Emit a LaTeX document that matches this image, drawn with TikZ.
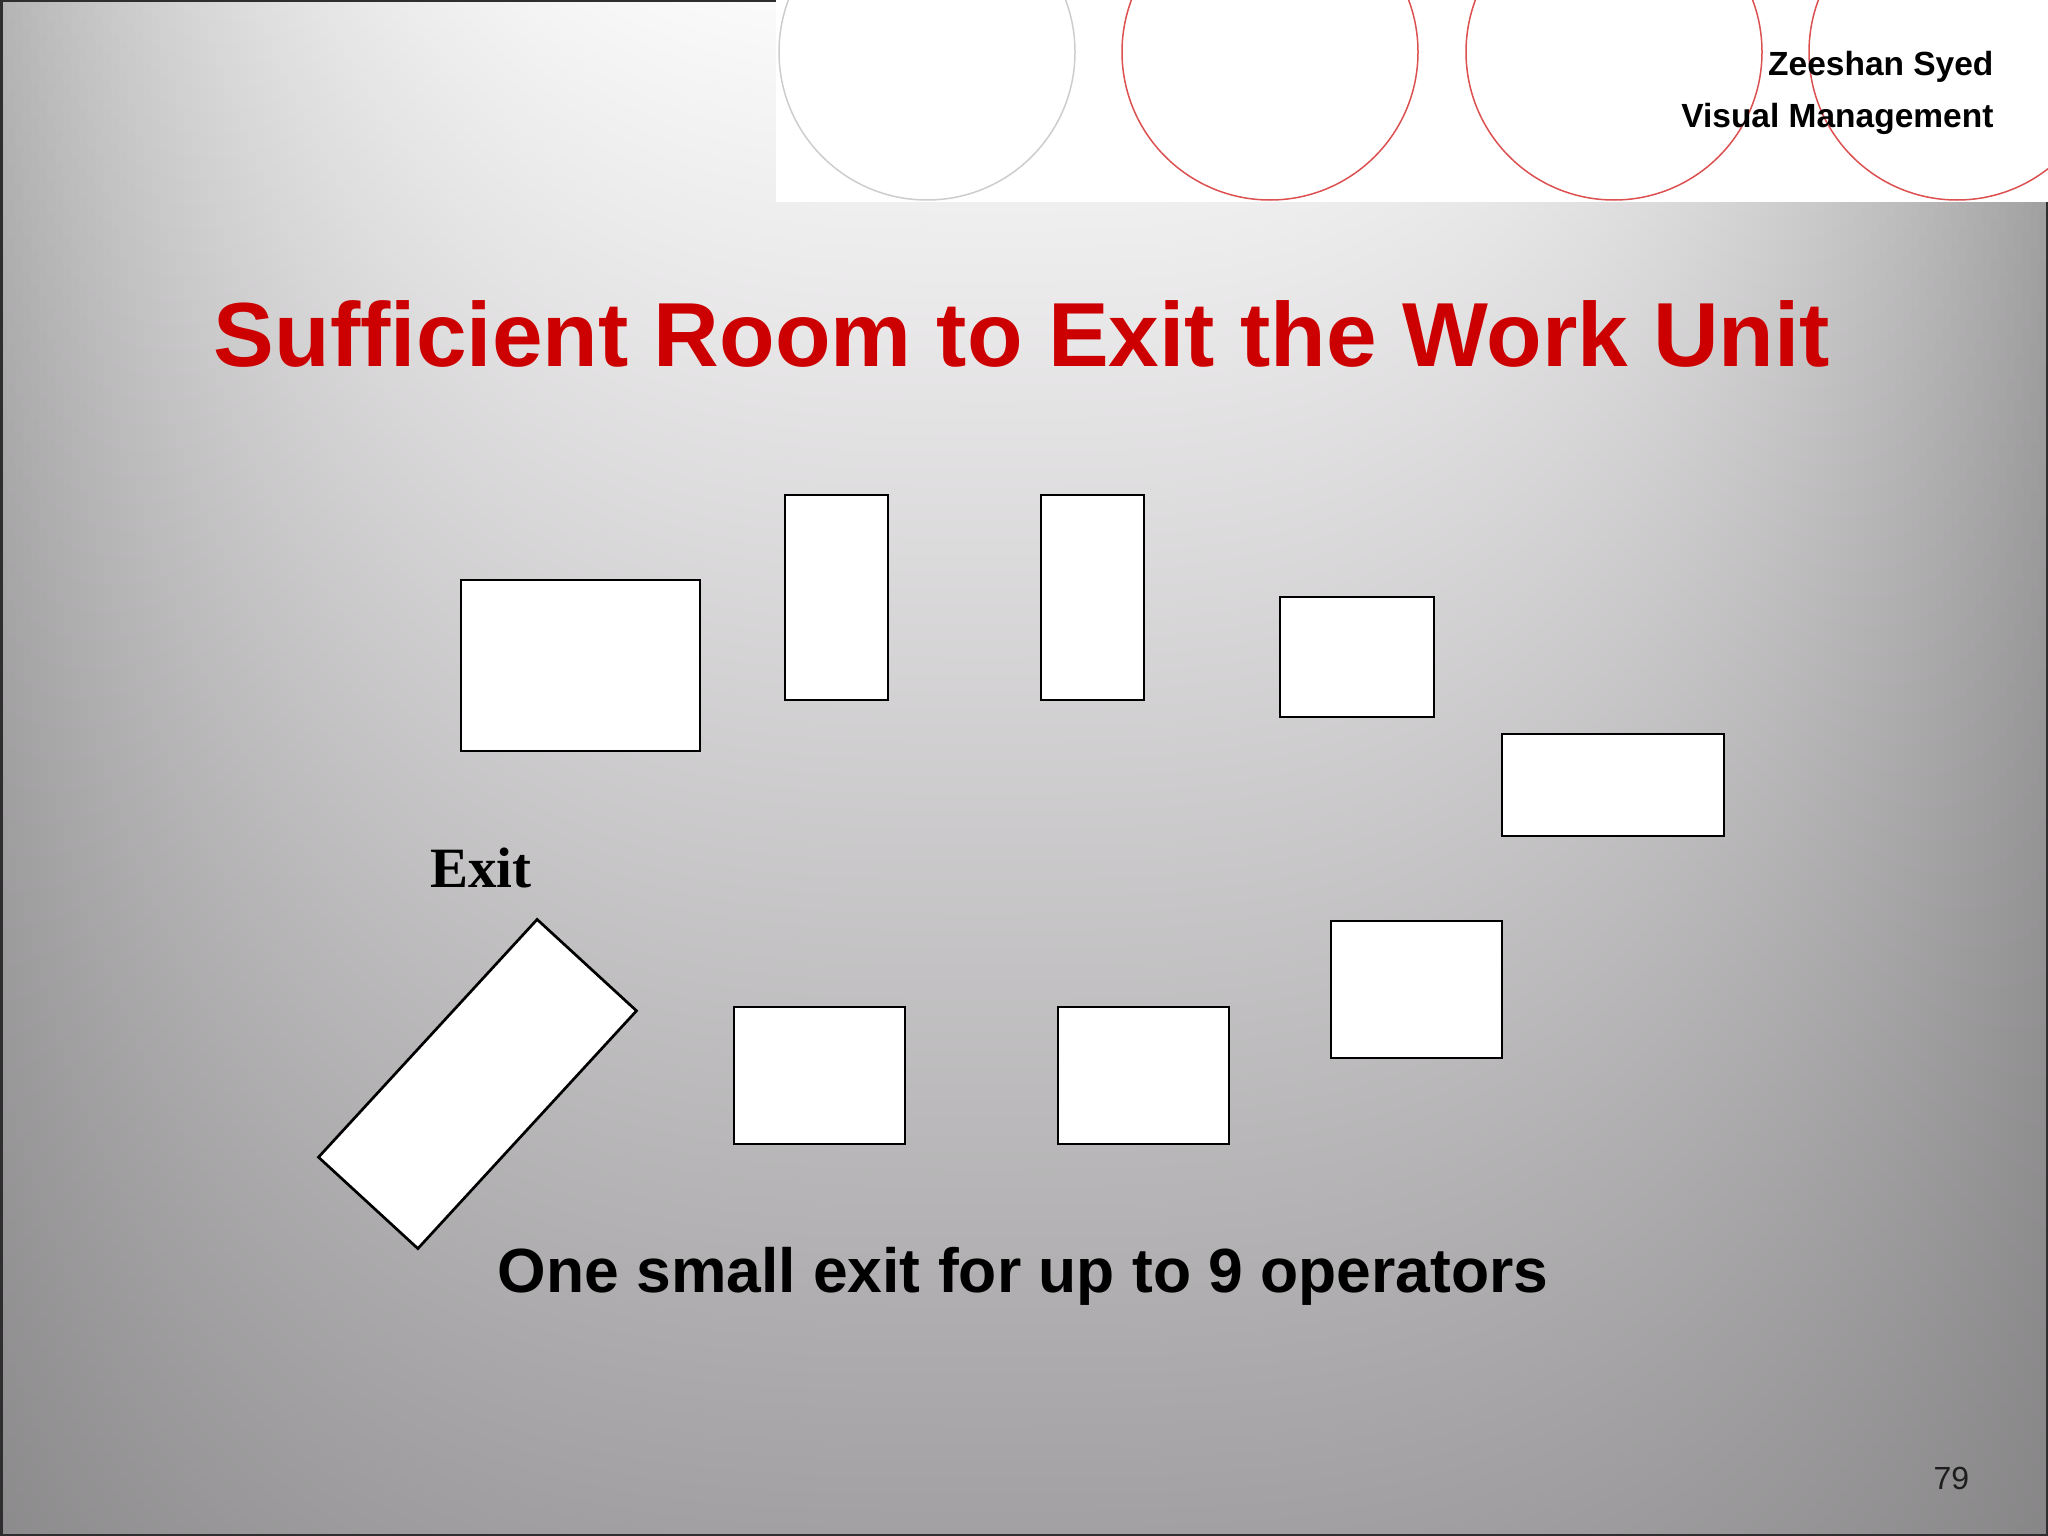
\documentclass[tikz,border=0pt]{standalone}
\usepackage{fontspec}
\setmainfont{Liberation Sans}
\newfontfamily\exitfont{Liberation Serif}
\usetikzlibrary{positioning}

\definecolor{titlered}{HTML}{CC0000}
\definecolor{ringred}{HTML}{DC5050}
\definecolor{ringgray}{HTML}{CDCDCD}
\definecolor{framegray}{HTML}{2E2E2E}
\definecolor{pagenum}{HTML}{1E1E1E}
\definecolor{bgtop}{HTML}{FCFBFC}
\definecolor{bgbottom}{HTML}{A2A0A2}
\definecolor{sidegray}{HTML}{7A797A}

\begin{document}
\begin{tikzpicture}[x = 1pt, y = -1pt,
  station/.style = {draw = black, fill = white, line width = 2.7pt, inner sep = 0pt}]
\useasboundingbox (0,0) rectangle (2048,1536);
\foreach \i in {0,...,255} {
  \pgfmathsetmacro{\xl}{\i*8}
  \pgfmathsetmacro{\u}{min(abs(\xl+4-990)/1030,1.05)}
  \pgfmathsetmacro{\a}{62*\u^3}
  \shade[top color = sidegray!\a!bgtop, bottom color = sidegray!\a!bgbottom] (\xl-0.5,0) rectangle (\xl+8.5,1536);
}
\draw[framegray, line width = 2.5pt] (1.25,1.25) rectangle (2046.75,1534.75);
\fill[white] (776,0) rectangle (2048,202);
\begin{scope}
\clip (776,0) rectangle (2048,202);
\draw[ringgray, line width = 1.5pt] (927,52) circle (148pt);
\foreach \cx in {1270,1614,1957}
  \draw[ringred, line width = 1.5pt] (\cx,52) circle (148pt);
\end{scope}
\node[anchor = base east, font = \fontsize{33.5}{40}\selectfont\bfseries] (author) at (1997,76) {Zeeshan Syed};
\node[anchor = base east, font = \fontsize{33.5}{40}\selectfont\bfseries] (topic) at (1997,128) {Visual Management};
\node[anchor = base, text = titlered, font = \fontsize{91}{100}\selectfont\bfseries] (title) at (1022,366) {Sufficient Room to Exit the Work Unit};
\node[station, minimum width = 239pt, minimum height = 171pt] (bench) at (580.5,665.5) {};
\node[station, minimum width = 103pt, minimum height = 205pt] (rackA) at (836.5,597.5) {};
\node[station, minimum width = 103pt, minimum height = 205pt] (rackB) at (1092.5,597.5) {};
\node[station, minimum width = 154pt, minimum height = 120pt] (cellA) at (1357,657) {};
\node[station, minimum width = 222pt, minimum height = 102pt] (cellB) at (1613,785) {};
\node[station, minimum width = 171pt, minimum height = 137pt] (cellC) at (1416.5,989.5) {};
\node[station, minimum width = 171pt, minimum height = 137pt] (cellD) at (1143.5,1075.5) {};
\node[station, minimum width = 171pt, minimum height = 137pt] (cellE) at (819.5,1075.5) {};
\node[station, minimum width = 323pt, minimum height = 135pt, rotate = 47.4] (door) at (477.5,1084) {};
\node[anchor = base, font = \exitfont\fontsize{57}{60}\selectfont\bfseries] (exitlabel) at (481,887) {Exit};
\node[anchor = base, font = \fontsize{62.4}{70}\selectfont\bfseries] (note) at (1023,1292) {One small exit for up to 9 operators};
\node[anchor = base west, text = pagenum, font = \fontsize{32}{36}\selectfont] (pageno) at (1930,1489) {79};
\end{tikzpicture}
\end{document}
